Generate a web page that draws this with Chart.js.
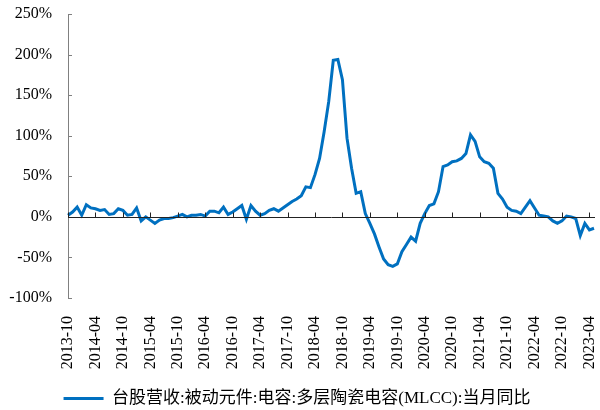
<!DOCTYPE html>
<html>
<head>
<meta charset="utf-8">
<script src="https://cdn.jsdelivr.net/npm/chart.js@4"></script>
<style>
  html, body { margin: 0; padding: 0; background: #fff; }
  #wrap { width: 600px; height: 410px; }
</style>
</head>
<body>
<div id="wrap"><canvas id="mlccChart" width="600" height="410"></canvas></div>
<script>
// monthly series, 2013-10 .. 2023-05
const startYear = 2013;
const startMonth = 10;
const seriesName = '台股营收:被动元件:电容:多层陶瓷电容(MLCC):当月同比';

// YoY %
const yoy2013_2015 = [2, 6, 12, 2, 15, 11, 10, 8, 9, 3, 4, 10, 8, 2, 3, 11, -5, 0, -4, -8, -4, -2, -2, -1];
const yoy2015_2017 = [1, 3, 0, 2, 2, 3, 1, 7, 7, 5, 12, 3, 6, 10, 14, -3, 14, 7, 2, 4, 8, 10, 7, 11];
const yoy2017_2019 = [15, 19, 22, 26, 37, 36, 52, 72, 105, 142, 193, 194, 169, 97, 60, 29, 31, 4, -8, -21, -37, -52, -59, -61];
const yoy2019_2021 = [-58, -43, -34, -25, -30, -8, 4, 14, 16, 31, 62, 64, 68, 69, 72, 78, 101, 93, 74, 68, 66, 60, 29, 22];
const yoy2021_2023 = [12, 8, 7, 4, 12, 20, 11, 2, 1, 0, -5, -8, -5, 1, 0, -2, -23, -8, -16, -14];

const yoyValues = [].concat(yoy2013_2015, yoy2015_2017, yoy2017_2019, yoy2019_2021, yoy2021_2023);

const yTicks = [-100, -50, 0, 50, 100, 150, 200, 250];

const months = [];
for (let i = 0; i < yoyValues.length; i++) {
  const m = startMonth - 1 + i;
  const y = startYear + Math.floor(m / 12);
  const mm = (m % 12) + 1;
  months.push(y + '-' + (mm < 10 ? '0' + mm : mm));
}

const lineColor = '#0070C0';
const serif = "'Liberation Serif', 'Times New Roman', serif";

// tick marks pointing inward, and the zero axis line
const innerTicks = {
  id: 'innerTicks',
  afterDraw(chart) {
    const ctx = chart.ctx;
    const xs = chart.scales.x;
    const ys = chart.scales.y;
    const area = chart.chartArea;
    const y0 = ys.getPixelForValue(0);
    ctx.save();
    ctx.lineWidth = 1;
    ctx.strokeStyle = '#808080';
    ys.ticks.forEach((t, i) => {
      const py = Math.round(ys.getPixelForTick(i)) + 0.5;
      ctx.beginPath();
      ctx.moveTo(area.left, py);
      ctx.lineTo(area.left + 4, py);
      ctx.stroke();
    });
    ctx.strokeStyle = '#222';
    const zy = Math.round(y0) + 0.5;
    ctx.beginPath();
    ctx.moveTo(area.left, zy);
    ctx.lineTo(area.right + 1, zy);
    ctx.stroke();
    xs.ticks.forEach((t, i) => {
      if (i % 6 !== 0) return;
      const px = Math.round(xs.getPixelForTick(i)) + 0.5;
      ctx.beginPath();
      ctx.moveTo(px, zy);
      ctx.lineTo(px, zy - 5);
      ctx.stroke();
    });
    ctx.restore();
  }
};

const ctx = document.getElementById('mlccChart').getContext('2d');
new Chart(ctx, {
  type: 'line',
  data: {
    labels: months,
    datasets: [{
      label: seriesName,
      data: yoyValues,
      borderColor: lineColor,
      backgroundColor: lineColor,
      borderWidth: 3,
      pointRadius: 0,
      tension: 0,
      fill: false
    }]
  },
  options: {
    responsive: false,
    animation: false,
    layout: { padding: { top: 14, right: 6, left: 0, bottom: -7 } },
    scales: {
      x: {
        type: 'category',
        offset: false,
        grid: { display: false },
        border: { display: false },
        ticks: {
          autoSkip: false,
          minRotation: 90,
          maxRotation: 90,
          padding: 10,
          color: '#000',
          font: { family: serif, size: 16 },
          callback: function(v, i) { return i % 6 === 0 ? months[i] : ''; }
        },
        afterFit: function(scale) {
          scale.height = 87;
          scale.paddingLeft = 0;
          scale.paddingRight = 0;
        }
      },
      y: {
        min: -100,
        max: 250,
        afterBuildTicks: function(scale) { scale.ticks = yTicks.map(v => ({ value: v })); },
        grid: { display: true, drawOnChartArea: false, drawTicks: false },
        border: { display: true, color: '#808080', width: 1 },
        ticks: {
          padding: 16,
          color: '#000',
          font: { family: serif, size: 16 },
          callback: v => v + '%'
        },
        afterFit: function(scale) {
          scale.width = 68;
          scale.paddingTop = 0;
          scale.paddingBottom = 0;
        }
      }
    },
    plugins: {
      legend: {
        position: 'bottom',
        align: 'center',
        labels: {
          boxWidth: 40,
          boxHeight: 3,
          padding: 5,
          color: '#000',
          font: { family: "'Liberation Serif', 'Noto Sans CJK SC', serif", size: 17 },
          generateLabels: c => Chart.defaults.plugins.legend.labels.generateLabels(c)
            .map(l => Object.assign(l, { lineWidth: 0, fillStyle: lineColor }))
        }
      },
      tooltip: { enabled: false }
    }
  },
  plugins: [innerTicks]
});
</script>
</body>
</html>
